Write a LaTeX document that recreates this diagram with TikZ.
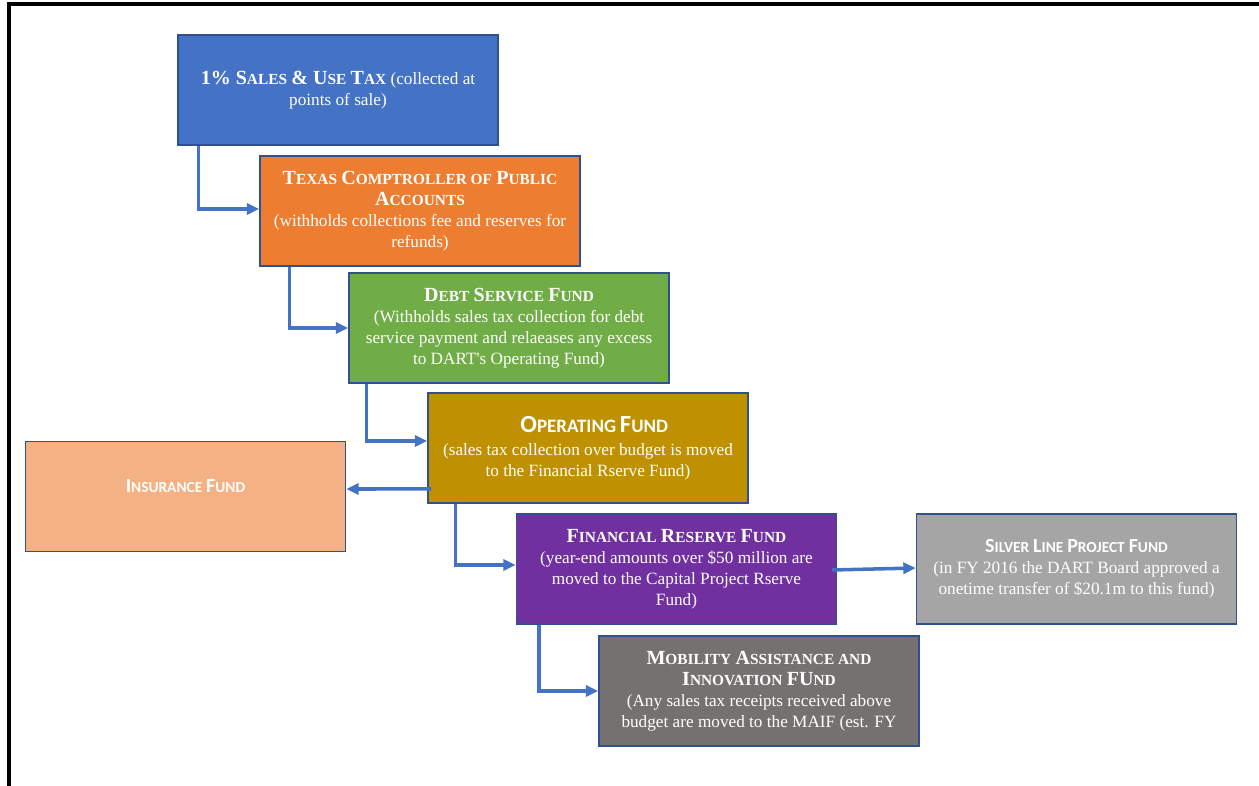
\documentclass[tikz,border=0pt]{standalone}
\usepackage{fontspec}
\setmainfont{Liberation Serif}
\newfontfamily\calibfont{Carlito}
\usepackage{tikz}
\usetikzlibrary{arrows.meta, positioning}
\definecolor{taxBlue}{HTML}{4472C4}
\definecolor{compOrange}{HTML}{ED7D31}
\definecolor{debtGreen}{HTML}{70AD47}
\definecolor{opGold}{HTML}{BF9000}
\definecolor{insPeach}{HTML}{F4B183}
\definecolor{resViolet}{HTML}{7030A0}
\definecolor{silvGray}{HTML}{A5A5A5}
\definecolor{mobGray}{HTML}{767171}
\definecolor{edgeBlue}{HTML}{2F528F}
% fake small caps: big first letter, rest uppercase and smaller
\newcommand{\lgcap}[2][11.4]{{\fontsize{#1}{13}\selectfont #2}}
\newcommand{\smcap}[2][8.75]{{\fontsize{#1}{10}\selectfont #2}}

\begin{document}
\begin{tikzpicture}[x=0.02cm, y=-0.02cm,
  fund/.style={rectangle, draw=edgeBlue, line width=0.8pt,
               minimum width=6.4cm, minimum height=2.2cm, inner sep=2pt,
               align=center, text=white, font=\rmfamily\fontsize{9.8}{11.9}\selectfont},
  flow/.style={-{Triangle[length=0.25cm, width=0.22cm]}, line width=2pt, draw=taxBlue},
]
  \useasboundingbox (0,0) rectangle (1259,786);
  % frame
  \draw[line width=2.2pt] (9,790) -- (9,4) -- (1262,4);

  % Staircase of funds
  \node[fund, fill=taxBlue] (tax) at (338,90)
    {\textbf{\lgcap{1\% S}\smcap{ALES} \lgcap{\& U}\smcap{SE} \lgcap{T}\smcap{AX}} (collected at\\
     points of sale)};
  \node[fund, fill=compOrange] (comptroller) at (420,211)
    {\textbf{\lgcap{T}\smcap{EXAS} \lgcap{C}\smcap{OMPTROLLER OF} \lgcap{P}\smcap{UBLIC}}\\
     \textbf{\lgcap{A}\smcap{CCOUNTS}}\\
     (withholds collections fee and reserves for\\
     refunds)};
  \node[fund, fill=debtGreen] (debt) at (509,328)
    {\textbf{\lgcap{D}\smcap{EBT} \lgcap{S}\smcap{ERVICE} \lgcap{F}\smcap{UND}}\\
     (Withholds sales tax collection for debt\\
     service payment and relaeases any excess\\
     to DART\textquotesingle s Operating Fund)};
  \node[fund, fill=opGold] (operating) at (588,448)
    {{\calibfont\bfseries\hspace*{0.25cm}\lgcap[14]{O}\smcap[10.8]{PERATING} \lgcap[14]{F}\smcap[10.8]{UND}}\\[0.05cm]
     (sales tax collection over budget is moved\\
     to the Financial Rserve Fund)};
  \node[fund, fill=insPeach] (insurance) at (185.5,496.5)
    {{\calibfont\bfseries\lgcap{I}\smcap{NSURANCE} \lgcap{F}\smcap{UND}}\\[0cm]};
  \node[fund, fill=resViolet] (reserve) at (676.5,569)
    {\textbf{\lgcap{F}\smcap{INANCIAL} \lgcap{R}\smcap{ESERVE} \lgcap{F}\smcap{UND}}\\
     (year-end amounts over \$50 million are\\
     moved to the Capital Project Rserve\\
     Fund)};
  \node[fund, fill=silvGray] (silver) at (1076.5,569)
    {{\calibfont\bfseries\lgcap{S}\smcap{ILVER} \lgcap{L}\smcap{INE} \lgcap{P}\smcap{ROJECT} \lgcap{F}\smcap{UND}}\\
     (in FY 2016 the DART Board approved a\\
     onetime transfer of \$20.1m to this fund)};
  \node[fund, fill=mobGray] (mobility) at (759,691)
    {\textbf{\lgcap{M}\smcap{OBILITY} \lgcap{A}\smcap{SSISTANCE AND}}\\
     \textbf{\lgcap{I}\smcap{NNOVATION} \lgcap{FU}\smcap{ND}}\\
     (Any sales tax receipts received above\\
     budget are moved to the MAIF (est. FY};

  % Flow arrows
  \draw[flow] ([xshift=0.42cm]tax.south west) |- ([yshift=0.04cm]comptroller.west);
  \draw[flow] ([xshift=0.6cm]comptroller.south west) |- (debt.west);
  \draw[flow] ([xshift=0.36cm]debt.south west) |- ([yshift=0.14cm]operating.west);
  \draw[flow] ([xshift=0.08cm, yshift=-0.82cm]operating.west) -- ([yshift=0.15cm]insurance.east);
  \draw[flow] ([xshift=0.56cm]operating.south west) |- ([yshift=0.08cm]reserve.west);
  \draw[flow] ([xshift=-0.1cm, yshift=-0.02cm]reserve.east) -- ([yshift=0.02cm]silver.west);
  \draw[flow] ([xshift=0.46cm]reserve.south west) |- (mobility.west);
\end{tikzpicture}
\end{document}
